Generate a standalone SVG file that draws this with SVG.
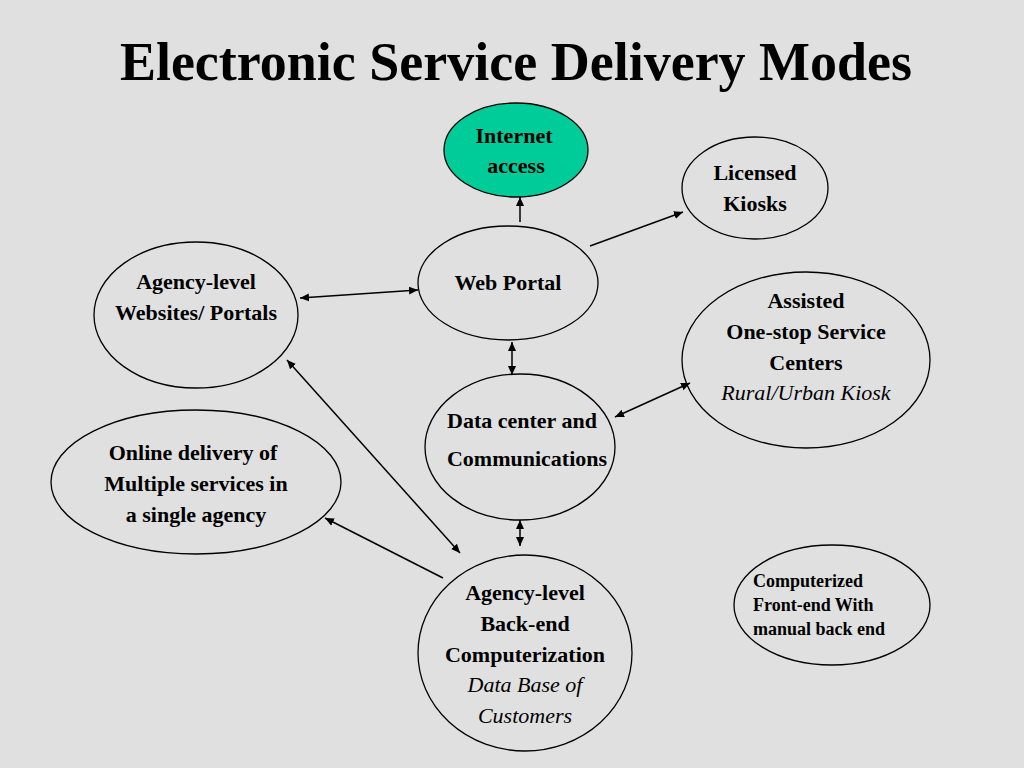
<svg xmlns="http://www.w3.org/2000/svg" width="1024" height="768" viewBox="0 0 1024 768">
<style>
.n{fill:none;stroke:#000;stroke-width:1.3}
.t{font-family:"Liberation Serif",serif;font-weight:bold;font-size:22px;text-anchor:middle;fill:#000}
.i{font-family:"Liberation Serif",serif;font-style:italic;font-size:22px;text-anchor:middle}
.s{font-family:"Liberation Serif",serif;font-weight:bold;font-size:18px;fill:#000}
.c{stroke:#000;stroke-width:1.5;fill:none;marker-end:url(#a)}
.d{marker-start:url(#b)}
</style>
<defs>
<marker id="a" markerWidth="10" markerHeight="10" refX="9" refY="5" orient="auto" markerUnits="userSpaceOnUse"><path d="M0,1 L9,5 L0,9 Z" fill="#000"/></marker>
<marker id="b" markerWidth="10" markerHeight="10" refX="1" refY="5" orient="auto" markerUnits="userSpaceOnUse"><path d="M10,1 L1,5 L10,9 Z" fill="#000"/></marker>
</defs>
<rect width="1024" height="768" fill="#e0e0e0"/>
<text x="516" y="80" font-family="Liberation Serif,serif" font-weight="bold" font-size="54" text-anchor="middle">Electronic Service Delivery Modes</text>
<g id="internet"><ellipse cx="516" cy="150" rx="72" ry="47" fill="#00cc99" stroke="#000" stroke-width="1.3"/><text class="t" x="514" y="143">Internet</text><text class="t" x="516" y="173">access</text></g>
<g id="kiosks"><ellipse class="n" cx="755" cy="188" rx="73" ry="51"/><text class="t" x="755" y="180">Licensed</text><text class="t" x="755" y="211">Kiosks</text></g>
<g id="webportal"><ellipse class="n" cx="508" cy="283" rx="90" ry="57"/><text class="t" x="508" y="290">Web Portal</text></g>
<g id="agencyweb"><ellipse class="n" cx="196" cy="315" rx="102" ry="73"/><text class="t" x="196" y="289">Agency-level</text><text class="t" x="196" y="320">Websites/ Portals</text></g>
<g id="assisted"><ellipse class="n" cx="806" cy="360" rx="124" ry="88"/><text class="t" x="806" y="308">Assisted</text><text class="t" x="806" y="339">One-stop Service</text><text class="t" x="806" y="370">Centers</text><text class="i" x="806" y="400">Rural/Urban  Kiosk</text></g>
<g id="datacenter"><ellipse class="n" cx="520" cy="447" rx="95" ry="73"/><text class="t" x="522" y="428" font-size="19">Data center and</text><text class="t" x="527" y="466" font-size="19">Communications</text></g>
<g id="online"><ellipse class="n" cx="196" cy="482" rx="145" ry="72"/><text class="t" x="193" y="460">Online delivery of</text><text class="t" x="196" y="491">Multiple services in</text><text class="t" x="196" y="522">a single agency</text></g>
<g id="backend"><ellipse class="n" cx="525" cy="653" rx="107" ry="98"/><text class="t" x="525" y="600">Agency-level</text><text class="t" x="525" y="631">Back-end</text><text class="t" x="525" y="662">Computerization</text><text class="i" x="525" y="692">Data Base of</text><text class="i" x="525" y="723">Customers</text></g>
<g id="computerized"><ellipse class="n" cx="832" cy="605" rx="98" ry="60"/><text class="s" x="753" y="587">Computerized</text><text class="s" x="753" y="611">Front-end With</text><text class="s" x="753" y="635">manual back end</text></g>
<g id="connectors">
<line class="c" x1="520" y1="222" x2="520" y2="197"/>
<line class="c" x1="590" y1="246" x2="683" y2="212"/>
<line class="c d" x1="300" y1="298" x2="418" y2="290"/>
<line class="c d" x1="512" y1="342" x2="512" y2="375"/>
<line class="c d" x1="615" y1="417" x2="690" y2="383"/>
<line class="c d" x1="287" y1="360" x2="460" y2="553"/>
<line class="c" x1="443" y1="578" x2="325" y2="518"/>
<line class="c d" x1="520" y1="520" x2="520" y2="546"/>
</g>
</svg>
